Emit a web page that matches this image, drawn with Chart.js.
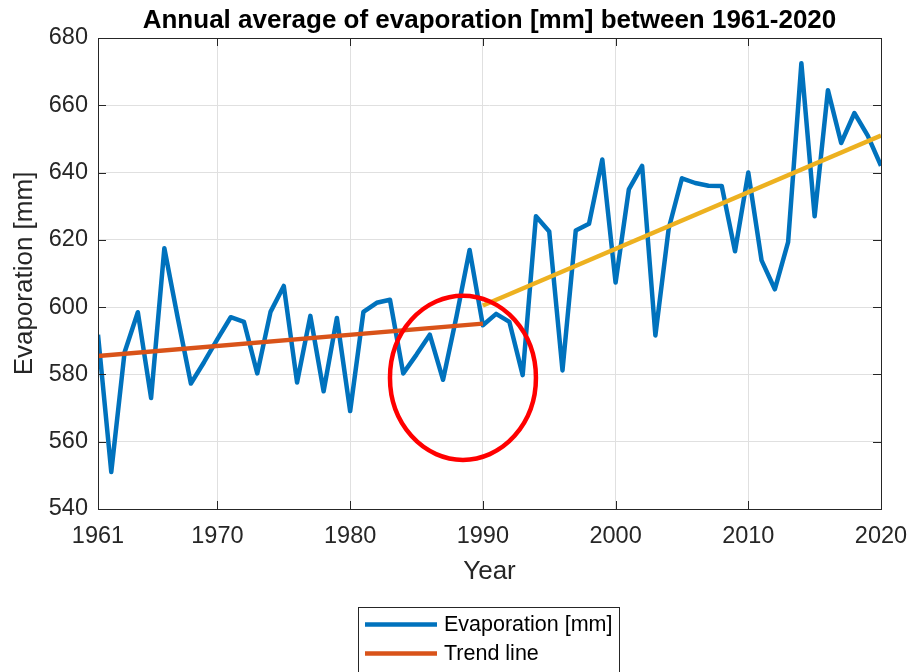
<!DOCTYPE html>
<html>
<head>
<meta charset="utf-8">
<script src="https://cdn.jsdelivr.net/npm/chart.js@4/dist/chart.umd.min.js"></script>
<style>
  html, body { margin: 0; padding: 0; background: #ffffff; }
  #wrap { width: 908px; height: 672px; position: relative; }
</style>
</head>
<body>
<div id="wrap"><canvas id="chart" width="908" height="672"></canvas></div>
<script>
// Annual average evaporation, 1961-2020
const years = [
  1961, 1962, 1963, 1964, 1965, 1966, 1967, 1968, 1969, 1970,
  1971, 1972, 1973, 1974, 1975, 1976, 1977, 1978, 1979, 1980,
  1981, 1982, 1983, 1984, 1985, 1986, 1987, 1988, 1989, 1990,
  1991, 1992, 1993, 1994, 1995, 1996, 1997, 1998, 1999, 2000,
  2001, 2002, 2003, 2004, 2005, 2006, 2007, 2008, 2009, 2010,
  2011, 2012, 2013, 2014, 2015, 2016, 2017, 2018, 2019, 2020
];
const evaporation = [
  591.8, 551.0, 586.5, 598.5, 573.0, 617.5, 597.0, 577.3, 583.7, 590.5,
  597.0, 595.6, 580.3, 598.6, 606.3, 577.6, 597.4, 575.0, 596.8, 569.1,
  598.6, 601.3, 602.2, 580.3, 585.9, 591.8, 578.4, 597.0, 617.0, 594.6,
  598.0, 595.6, 579.8, 627.0, 622.5, 581.2, 622.8, 624.8, 643.9, 607.3,
  635.0, 642.0, 591.6, 623.3, 638.3, 636.9, 636.1, 636.0, 616.6, 640.0,
  613.9, 605.3, 619.3, 672.5, 627.0, 664.5, 648.8, 657.7, 651.0, 642.0
];

// Linear trends for the two sub-periods
const trendEarlyYears = [1961, 1990];
const trendEarlyValues = [585.5, 595.1];
const trendLateYears = [1990, 2020];
const trendLateValues = [600.5, 651.0];

const xTickValues = [1961, 1970, 1980, 1990, 2000, 2010, 2020];
const yTickValues = [540, 560, 580, 600, 620, 640, 660, 680];

const titleText = 'Annual average of evaporation [mm] between 1961-2020';
const xAxisTitle = 'Year';
const yAxisTitle = 'Evaporation [mm]';
const legendLabels = ['Evaporation [mm]', 'Trend line'];

// Marked period (centre year / value and radii in axis units)
const markYear = 1988.5, markValue = 579.0, markRadiusYears = 5.5, markRadiusValue = 24.4;

const FONT = "'Liberation Sans', Arial, Helvetica, sans-serif";
const INK = '#262626';
const BLUE = '#0072BD', ORANGE = '#D95319', YELLOW = '#EDB120';

const toPoints = (xs, ys) => xs.map((x, i) => ({ x: x, y: ys[i] }));

// Title centred over the plot area
const titlePlugin = {
  id: 'plotTitle',
  afterDraw(chart) {
    const { ctx, chartArea: a } = chart;
    ctx.save();
    ctx.font = 'bold 26px ' + FONT;
    ctx.fillStyle = '#000000';
    ctx.textAlign = 'center';
    ctx.textBaseline = 'alphabetic';
    ctx.fillText(titleText, (a.left + a.right) / 2, 28);
    ctx.restore();
  }
};

// Box around the axes with inward tick marks on all four sides
const framePlugin = {
  id: 'axesFrame',
  afterDatasetsDraw(chart) {
    const { ctx, chartArea: a, scales: { x, y } } = chart;
    const tl = 8;
    ctx.save();
    ctx.strokeStyle = INK;
    ctx.lineWidth = 1;
    ctx.beginPath();
    xTickValues.forEach(v => {
      const px = Math.round(x.getPixelForValue(v)) + 0.5;
      ctx.moveTo(px, a.bottom); ctx.lineTo(px, a.bottom - tl);
      ctx.moveTo(px, a.top); ctx.lineTo(px, a.top + tl);
    });
    yTickValues.forEach(v => {
      const py = Math.round(y.getPixelForValue(v)) + 0.5;
      ctx.moveTo(a.left, py); ctx.lineTo(a.left + tl, py);
      ctx.moveTo(a.right, py); ctx.lineTo(a.right - tl, py);
    });
    ctx.stroke();
    ctx.strokeRect(Math.round(a.left) + 0.5, Math.round(a.top) + 0.5,
                   Math.round(a.right - a.left), Math.round(a.bottom - a.top));
    ctx.restore();
  }
};

// Red ellipse marking the break around 1990
const markPlugin = {
  id: 'markEllipse',
  afterDraw(chart) {
    const { ctx, scales: { x, y } } = chart;
    const cx = x.getPixelForValue(markYear);
    const cy = y.getPixelForValue(markValue);
    const rx = x.getPixelForValue(markYear + markRadiusYears) - cx;
    const ry = cy - y.getPixelForValue(markValue + markRadiusValue);
    ctx.save();
    ctx.strokeStyle = '#FF0000';
    ctx.lineWidth = 4.5;
    ctx.beginPath();
    ctx.ellipse(cx, cy, rx, ry, 0, 0, Math.PI * 2);
    ctx.stroke();
    ctx.restore();
  }
};

// Boxed legend below the axes
const legendPlugin = {
  id: 'boxLegend',
  afterDraw(chart) {
    const { ctx } = chart;
    const colors = [BLUE, ORANGE];
    const left = 358.5, top = 607.5, w = 261;
    ctx.save();
    ctx.fillStyle = '#ffffff';
    ctx.fillRect(left, top, w, 120);
    ctx.strokeStyle = INK;
    ctx.lineWidth = 1;
    ctx.strokeRect(left, top, w, 120);
    ctx.font = '21.5px ' + FONT;
    ctx.textBaseline = 'middle';
    ctx.textAlign = 'left';
    legendLabels.forEach((label, i) => {
      const ly = 624.5 + i * 29;
      ctx.strokeStyle = colors[i];
      ctx.lineWidth = 4.5;
      ctx.beginPath();
      ctx.moveTo(365, ly); ctx.lineTo(437, ly);
      ctx.stroke();
      ctx.fillStyle = '#000000';
      ctx.fillText(label, 444, ly + 1);
    });
    ctx.restore();
  }
};

new Chart(document.getElementById('chart'), {
  type: 'line',
  data: {
    datasets: [
      {
        label: legendLabels[0],
        data: toPoints(years, evaporation),
        borderColor: BLUE,
        borderWidth: 4.5,
        borderJoinStyle: 'round',
        pointRadius: 0,
        tension: 0,
        order: 2
      },
      {
        label: legendLabels[1],
        data: toPoints(trendEarlyYears, trendEarlyValues),
        borderColor: ORANGE,
        borderWidth: 4.5,
        pointRadius: 0,
        order: 1
      },
      {
        label: 'Trend line 1990-2020',
        data: toPoints(trendLateYears, trendLateValues),
        borderColor: YELLOW,
        borderWidth: 4.5,
        pointRadius: 0,
        order: 1
      }
    ]
  },
  options: {
    responsive: false,
    animation: false,
    devicePixelRatio: 1,
    layout: { padding: { left: 0, top: 38, right: 27, bottom: 83 } },
    plugins: {
      legend: { display: false },
      title: { display: false },
      tooltip: { enabled: false }
    },
    scales: {
      x: {
        type: 'linear',
        min: 1961,
        max: 2020,
        afterBuildTicks: s => { s.ticks = xTickValues.map(v => ({ value: v })); },
        afterFit: s => { s.height = 80; s.paddingLeft = 0; s.paddingRight = 0; },
        border: { display: false },
        grid: {
          drawTicks: false,
          lineWidth: 1,
          color: c => (c.tick && (c.tick.value === 1961 || c.tick.value === 2020)) ? 'rgba(0,0,0,0)' : '#e0e0e0'
        },
        ticks: {
          padding: 13,
          maxRotation: 0,
          autoSkip: false,
          color: INK,
          font: { family: FONT, size: 23.5 },
          callback: v => String(v)
        },
        title: {
          display: true,
          text: xAxisTitle,
          color: INK,
          font: { family: FONT, size: 26 },
          padding: { top: 0, bottom: 2 }
        }
      },
      y: {
        min: 540,
        max: 680,
        afterBuildTicks: s => { s.ticks = yTickValues.map(v => ({ value: v })); },
        afterFit: s => { s.width = 98; s.paddingTop = 0; s.paddingBottom = 0; },
        border: { display: false },
        grid: {
          drawTicks: false,
          lineWidth: 1,
          color: c => (c.tick && (c.tick.value === 540 || c.tick.value === 680)) ? 'rgba(0,0,0,0)' : '#e0e0e0'
        },
        ticks: {
          padding: 10,
          color: INK,
          font: { family: FONT, size: 23.5 },
          callback: v => String(v)
        },
        title: {
          display: true,
          text: yAxisTitle,
          color: INK,
          font: { family: FONT, size: 26 },
          padding: { top: 9, bottom: 0 }
        }
      }
    }
  },
  plugins: [framePlugin, markPlugin, legendPlugin, titlePlugin]
});
</script>
</body>
</html>
